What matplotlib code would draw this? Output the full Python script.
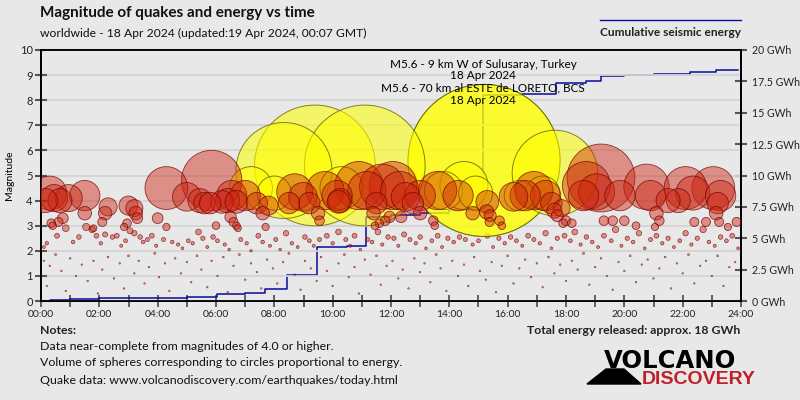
import numpy as np
import matplotlib
matplotlib.use("Agg")
import matplotlib.pyplot as plt
from matplotlib.patches import Polygon

# cumulative energy (GWh) vs hour of day
energy_t = [0, 0.3, 1.0, 2.0, 3.0, 4.0, 5.0, 5.9, 6.02, 7.0, 7.68, 8.42, 9.0, 9.45, 10.5,
            11.14, 12.0, 13.0, 14.0, 15.05, 15.14, 16.5, 17.65, 18.7, 19.2, 20.0, 21.0,
            22.25, 23.15, 23.9]
energy_gwh = [0.0, 0.05, 0.15, 0.2, 0.22, 0.25, 0.28, 0.3, 0.55, 0.6, 0.93, 2.07, 2.1, 4.33,
              4.4, 6.67, 6.85, 7.0, 7.25, 7.5, 16.4, 16.5, 17.4, 17.55, 17.9, 18.0, 18.1,
              18.27, 18.4, 18.4]

# strongest / highlighted quakes (hour, magnitude)
strong_t = [8.33, 9.39, 11.1, 15.19, 15.19, 17.62, 7.2, 8.0, 13.8, 14.5, 14.9, 16.4, 17.2, 10.3]
strong_m = [5.2, 5.4, 5.4, 5.6, 5.6, 5.1, 4.5, 4.3, 4.4, 4.6, 4.3, 4.2, 4.3, 4.5]

# other quakes M >= ~3
big_t = [0.15, 0.3, 0.45, 0.65, 0.95, 1.5, 0.35, 0.4, 0.6, 0.75, 1.5,
         1.8, 2.1, 2.2, 2.3, 2.85, 2.95, 3.0, 3.2, 3.25, 3.3,
         4.0, 4.3, 4.3, 5.0, 5.45, 5.6, 5.85, 5.8, 6.0, 6.2, 6.4, 6.54, 6.7, 6.5, 6.6, 6.7,
         6.75, 7.0, 7.4, 7.6, 7.8, 7.7,
         8.5, 8.7, 8.98, 9.2, 9.5, 9.55, 9.74, 10.2, 10.15, 10.25, 10.9, 11.17, 11.5, 11.4,
         11.6, 11.45, 11.7, 11.8, 11.95, 12.07, 12.3, 12.35, 12.5, 12.75, 13.0, 13.0, 13.45,
         13.5, 13.6, 14.3, 14.8, 15.28, 15.3, 15.4, 15.38, 15.72, 15.8, 16.2, 16.6, 16.9,
         17.3, 17.5, 17.6, 17.85, 17.7, 17.9, 18.2, 18.0,
         18.6, 18.7, 19.05, 19.2, 19.3, 19.6, 19.85, 20.0, 20.4, 20.76, 20.9, 21.1, 21.2,
         21.05, 21.5, 21.85, 22.1, 22.35, 22.4, 22.8, 23.05, 23.15, 23.3, 23.2, 23.25,
         23.55, 23.85]
big_m = [4.0, 4.3, 4.1, 4.0, 4.1, 4.2, 3.1, 3.0, 3.15, 3.3, 3.5,
         2.9, 3.15, 3.5, 3.75, 2.95, 3.1, 3.8, 3.7, 3.5, 3.3,
         3.3, 4.5, 2.95, 4.15, 4.0, 3.9, 4.8, 3.9, 3.0, 3.95, 4.0, 4.2, 3.95, 3.35, 3.15, 3.0,
         2.9, 4.2, 3.9, 3.5, 3.8, 2.95,
         3.9, 4.35, 4.15, 3.9, 3.5, 3.2, 4.4, 3.95, 4.2, 4.0, 4.6, 4.4, 3.9, 3.5,
         3.1, 3.0, 4.55, 3.2, 3.35, 4.6, 4.4, 3.35, 4.15, 3.9, 3.5, 4.2, 3.2,
         3.0, 4.4, 4.2, 3.5, 3.55, 3.95, 3.4, 3.15, 3.2, 3.0, 4.15, 4.2, 4.4,
         4.2, 3.9, 3.6, 3.7, 3.4, 3.1, 3.1, 3.2,
         4.2, 4.6, 4.35, 4.9, 3.2, 3.2, 4.2, 3.2, 3.0, 4.55, 4.2, 3.5, 3.2,
         2.95, 4.0, 4.0, 4.5, 4.3, 3.15, 3.15, 4.5, 3.5, 4.2, 3.9, 3.15,
         2.95, 3.15]

# quakes M 2-3
mid_t = [0.1, 0.2, 0.55, 0.85, 1.1, 1.3, 1.55, 1.75, 1.9, 2.05, 2.2, 2.45, 2.6, 2.75, 2.9,
         3.05, 3.2, 3.4, 3.5, 3.65, 3.8, 3.95, 4.2, 4.5, 4.7, 4.85, 5.05, 5.2, 5.4, 5.55,
         5.7, 5.9, 6.05, 6.3, 6.45, 6.85, 7.05, 7.2, 7.45, 7.6, 7.85, 8.05, 8.2, 8.4, 8.6,
         8.8, 9.05, 9.2, 9.35, 9.55, 9.8, 10.0, 10.2, 10.45, 10.6, 10.75, 10.95, 11.2, 11.35,
         11.55, 11.7, 11.9, 12.1, 12.25, 12.45, 12.65, 12.85, 13.0, 13.2, 13.4, 13.6, 13.75,
         13.95, 14.15, 14.35, 14.55, 14.8, 15.0, 15.3, 15.5, 15.7, 15.9, 16.1, 16.3, 16.5,
         16.7, 16.9, 17.1, 17.3, 17.5, 17.7, 17.95, 18.15, 18.3, 18.5, 18.7, 18.9, 19.1,
         19.3, 19.55, 19.7, 19.9, 20.1, 20.3, 20.5, 20.7, 20.9, 21.1, 21.3, 21.5, 21.7,
         21.9, 22.1, 22.3, 22.5, 22.7, 22.9, 23.1, 23.3, 23.5, 23.7, 23.9]
mid_m = [2.15, 2.3, 2.6, 2.9, 2.35, 2.55, 2.95, 2.85, 2.6, 2.3, 2.65, 2.55, 2.6, 2.2, 2.4,
         2.8, 2.7, 2.55, 2.35, 2.45, 2.6, 2.2, 2.45, 2.35, 2.25, 2.1, 2.4, 2.3, 2.75, 2.5,
         2.15, 2.55, 2.4, 2.25, 2.05, 2.45, 2.3, 2.0, 2.6, 2.35, 2.2, 2.45, 2.05, 2.7, 2.3,
         2.15, 2.55, 2.4, 2.2, 2.45, 2.6, 2.3, 2.75, 2.45, 2.2, 2.6, 2.05, 2.45, 2.35,
         2.75, 2.25, 2.55, 2.5, 2.2, 2.65, 2.45, 2.3, 2.55, 2.1, 2.4, 2.6, 2.15,
         2.5, 2.35, 2.55, 2.45, 2.25, 2.4, 2.6, 2.15, 2.5, 2.3, 2.55, 2.4, 2.2,
         2.6, 2.45, 2.3, 2.7, 2.1, 2.5, 2.6, 2.4, 2.75, 2.25, 2.55, 2.35, 2.15,
         2.6, 2.4, 2.85, 2.2, 2.5, 2.35, 2.7, 2.1, 2.45, 2.6, 2.3, 2.5, 2.15,
         2.4, 2.7, 2.25, 2.5, 2.85, 2.35, 2.2, 2.55, 2.4, 2.6, 2.1]

# quakes below M2
low_t = [0.1, 0.2, 0.3, 0.5, 0.7, 0.85, 1.0, 1.2, 1.4, 1.6, 1.8, 1.95, 2.1, 2.3, 2.5, 2.7,
         2.85, 3.0, 3.2, 3.35, 3.55, 3.7, 3.9, 4.05, 4.25, 4.4, 4.6, 4.8, 5.0, 5.15, 5.35,
         5.5, 5.7, 5.85, 6.05, 6.25, 6.4, 6.6, 6.8, 7.0, 7.2, 7.4, 7.55, 7.75, 7.95, 8.1,
         8.3, 8.5, 8.7, 8.9, 9.05, 9.25, 9.45, 9.6, 9.8, 10.0, 10.2, 10.4, 10.55, 10.75,
         10.9, 11.1, 11.3, 11.5, 11.65, 11.85, 12.05, 12.25, 12.4, 12.6, 12.8, 13.0, 13.15,
         13.35, 13.55, 13.7, 13.9, 14.1, 14.3, 14.5, 14.65, 14.85, 15.05, 15.25, 15.45,
         15.6, 15.8, 16.0, 16.2, 16.4, 16.6, 16.8, 17.0, 17.2, 17.4, 17.6, 17.8, 18.0, 18.2,
         18.4, 18.6, 18.8, 19.0, 19.2, 19.4, 19.6, 19.8, 20.0, 20.2, 20.4, 20.6, 20.8, 21.0,
         21.2, 21.4, 21.6, 21.8, 22.0, 22.2, 22.4, 22.6, 22.8, 23.0, 23.2, 23.4, 23.6, 23.8]
low_m = [1.6, 0.6, 1.4, 1.85, 1.2, 0.4, 1.7, 1.0, 1.45, 0.8, 1.6, 0.3, 1.25, 1.75, 0.9, 1.5,
         0.5, 1.8, 1.1, 1.6, 0.7, 1.35, 1.9, 0.95, 1.5, 0.4, 1.7, 1.1, 1.55, 0.75, 1.8,
         1.25, 0.55, 1.6, 1.0, 1.75, 0.35, 1.4, 1.85, 0.85, 1.5, 1.15, 0.5, 1.65, 1.3, 0.7,
         1.55, 1.9, 1.05, 0.45, 1.6, 1.3, 0.8, 1.75, 1.2, 0.6, 1.5, 1.85, 0.95, 1.35,
         0.3, 1.65, 1.05, 1.8, 0.65, 1.4, 1.6, 0.9, 1.25, 0.5, 1.7, 1.15, 1.5,
         0.75, 1.85, 1.3, 0.4, 1.6, 1.0, 1.45, 0.6, 1.75, 1.2, 0.85, 1.55,
         0.35, 1.4, 1.8, 0.7, 1.3, 1.65, 0.95, 1.5, 0.55, 1.75, 1.1, 1.45, 0.8, 1.6,
         1.25, 1.9, 0.65, 1.35, 1.7, 1.0, 0.45, 1.55, 1.2, 1.8, 0.75, 1.45, 1.65, 0.9,
         1.3, 1.75, 0.5, 1.5, 1.1, 1.85, 0.7, 1.4, 1.6, 1.0, 1.8, 0.6, 1.35, 1.55]

hour_labels = ["00:00", "02:00", "04:00", "06:00", "08:00", "10:00", "12:00",
               "14:00", "16:00", "18:00", "20:00", "22:00", "24:00"]
energy_ticks = [0, 2.5, 5, 7.5, 10, 12.5, 15, 17.5, 20]
energy_labels = ["0 GWh", "2.5 GWh", "5 GWh", "7.5 GWh", "10 GWh", "12.5 GWh",
                 "15 GWh", "17.5 GWh", "20 GWh"]

BG = "#e8e8e8"
DPI = 100
plt.rcParams["font.family"] = ["Lato", "DejaVu Sans"]


def marker_area(mags):
    # circle radius in px: volume of sphere ~ energy
    r = 76 * 10 ** (0.5 * (np.asarray(mags) - 5.6))
    r = np.maximum(r, 0.8)
    return (2 * r * 72 / DPI) ** 2


fig = plt.figure(figsize=(8, 4), dpi=DPI, facecolor=BG)
ax2 = fig.add_axes([41 / 800, 99 / 400, 700 / 800, 251 / 400])
ax = ax2.twinx()
ax.yaxis.tick_left()
ax.yaxis.set_label_position("left")
ax2.yaxis.tick_right()
ax.set_zorder(ax2.get_zorder() + 1)
ax.patch.set_visible(False)
ax2.set_facecolor(BG)

# energy line (behind the circles)
ax2.plot(energy_t, energy_gwh, drawstyle="steps-post", color="#0a0aa0", lw=1.1)
ax2.set_ylim(0, 20)
ax2.set_yticks(energy_ticks)
ax2.set_yticklabels(energy_labels)

ax.set_xlim(0, 24)
ax.set_ylim(0, 10)
ax.set_yticks(range(0, 11))
ax.set_xticks(range(0, 25, 2))
ax.set_xticks(range(0, 25), minor=True)
ax2.set_xticks(range(0, 25, 2))
ax2.set_xticklabels(hour_labels)
ax2.set_xticks(range(0, 25), minor=True)
ax.tick_params(axis="x", which="both", bottom=False, labelbottom=False)
ax.yaxis.grid(True, color="#d3d3d3", lw=1.3)
ax.set_axisbelow(True)

red_face = (0.8, 0.14, 0.06, 0.45)
red_edge = (0.45, 0.0, 0.0, 0.75)
yel_face = (1.0, 1.0, 0.0, 0.55)
yel_edge = (0.4, 0.4, 0.0, 0.8)

ax.scatter(low_t, low_m, s=marker_area(low_m), facecolor=red_face, edgecolor=red_edge, lw=0.4, zorder=3)
ax.scatter(mid_t, mid_m, s=marker_area(mid_m), facecolor=red_face, edgecolor=red_edge, lw=0.5, zorder=3)
order = np.argsort(strong_m)[::-1]
ax.scatter(np.array(strong_t)[order], np.array(strong_m)[order], s=marker_area(np.array(strong_m)[order]),
           facecolor=yel_face, edgecolor=yel_edge, lw=0.7, zorder=4)
order = np.argsort(big_m)[::-1]
ax.scatter(np.array(big_t)[order], np.array(big_m)[order], s=marker_area(np.array(big_m)[order]),
           facecolor=red_face, edgecolor=red_edge, lw=0.6, zorder=5)

for a in (ax, ax2):
    for sp in a.spines.values():
        sp.set_linewidth(1.3)
        sp.set_color("black")
ax.tick_params(axis="y", direction="inout", length=8, width=1.5, color="#555555",
               labelsize=8, labelcolor="#222222", pad=2)
ax2.tick_params(axis="y", direction="inout", length=8, width=1.5, color="#555555",
                labelsize=7.6, labelcolor="#222222", pad=4)
ax2.tick_params(axis="x", which="both", direction="inout", length=9, width=1.3, color="#555555",
                labelsize=7.5, labelcolor="#222222", pad=2)
ax.set_ylabel("Magnitude", fontsize=7.5, labelpad=4)

# annotations of the strongest events
for y, s in [(9.44, "M5.6 - 9 km W of Sulusaray, Turkey"), (9.0, "18 Apr 2024"),
             (8.49, "M5.6 - 70 km al ESTE de LORETO, BCS"), (8.0, "18 Apr 2024")]:
    ax.text(15.15, y, s, ha="center", va="center", fontsize=8.5, color="black", zorder=6)

fig.text(40 / 800, 1 - 13 / 400, "Magnitude of quakes and energy vs time", fontsize=11,
         fontweight="bold", va="center", color="#111111")
fig.text(40 / 800, 1 - 33 / 400, "worldwide - 18 Apr 2024 (updated:19 Apr 2024, 00:07 GMT)",
         fontsize=8.7, va="center", color="#111111")
fig.add_artist(plt.Line2D([600 / 800, 741 / 800], [1 - 20 / 400, 1 - 20 / 400],
                          color="#0a0aa0", lw=1))
fig.text(600 / 800, 1 - 33 / 400, "Cumulative seismic energy", fontsize=8.6,
         fontweight="bold", va="center", color="#222222")

fig.text(40 / 800, 1 - 331 / 400, "Notes:", fontsize=8.8, fontweight="bold", va="center", color="#222222")
fig.text(40 / 800, 1 - 347 / 400, "Data near-complete from magnitudes of 4.0 or higher.",
         fontsize=8.9, va="center", color="#111111")
fig.text(40 / 800, 1 - 363 / 400, "Volume of spheres corresponding to circles proportional to energy.",
         fontsize=8.9, va="center", color="#111111")
fig.text(40 / 800, 1 - 380 / 400, "Quake data: www.volcanodiscovery.com/earthquakes/today.html",
         fontsize=8.9, va="center", color="#111111")
fig.text(740 / 800, 1 - 331 / 400, "Total energy released: approx. 18 GWh", fontsize=8.8,
         fontweight="bold", ha="right", va="center", color="#222222")

# logo
fig.text(604 / 800, 1 - 368 / 400, "VOLCANO", fontsize=17.5, fontweight="bold", family="DejaVu Sans",
         va="baseline", color="black")
fig.text(642 / 800, 1 - 384 / 400, "DISCOVERY", fontsize=14, fontweight="bold", family="Liberation Sans",
         va="baseline", color="#c0202a")
tri = [(587, 384), (641, 384), (624, 369), (606, 369)]
fig.add_artist(Polygon([(x / 800, 1 - y / 400) for x, y in tri], closed=True,
                       transform=fig.transFigure, color="black"))

fig.savefig("out.png", dpi=DPI, facecolor=BG)
